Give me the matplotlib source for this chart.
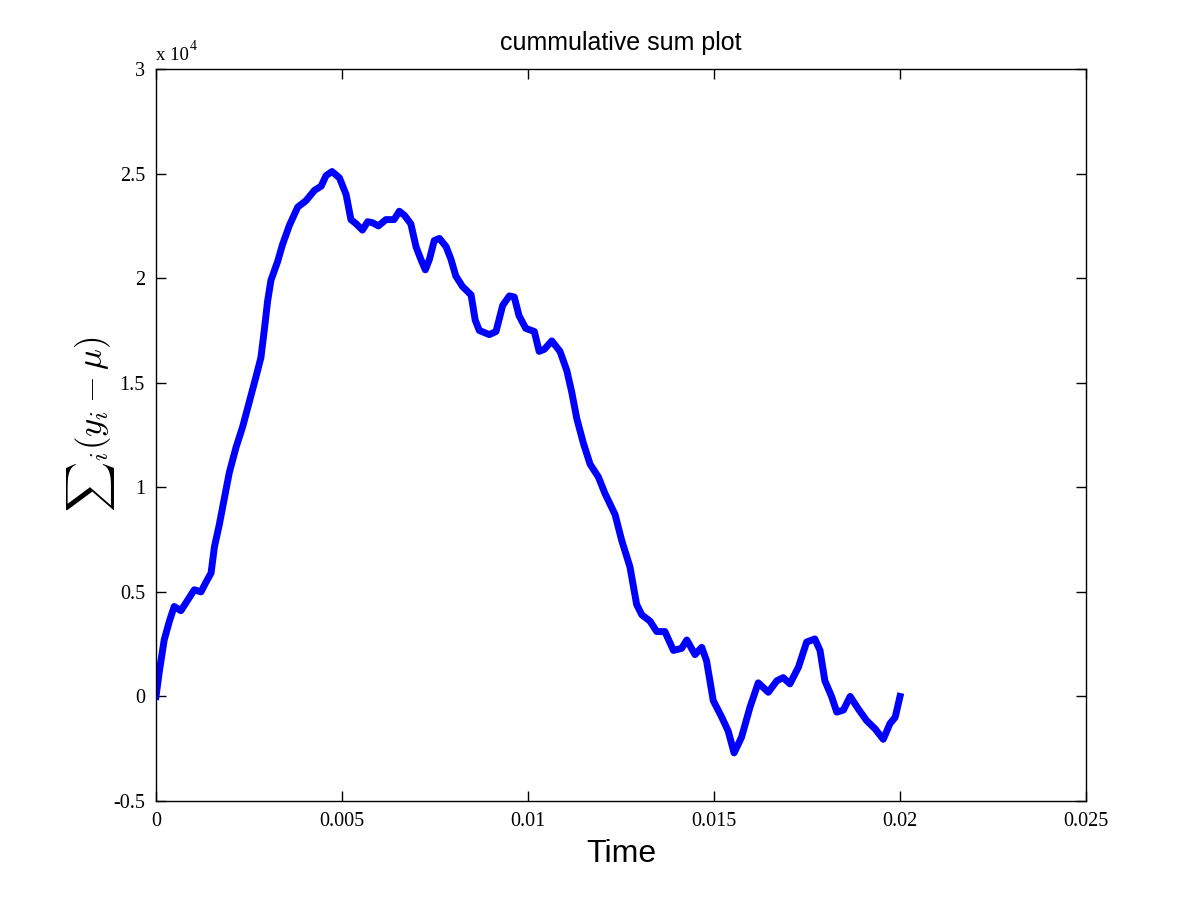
import matplotlib

matplotlib.use("Agg")
import matplotlib.pyplot as plt
from matplotlib.ticker import FixedLocator, FixedFormatter
import numpy as np


# traced cumulative sum curve (time in s, value in units of 1e4)
time = [
    0.0, 0.00009, 0.00022, 0.00036, 0.00049, 0.00067, 0.00085, 0.00103, 0.00121,
    0.00134, 0.00148, 0.00157, 0.0017, 0.00184, 0.00197, 0.00215, 0.00233, 0.00251,
    0.00269, 0.00282, 0.00291, 0.003, 0.00309, 0.00327, 0.0034, 0.00358, 0.00381,
    0.00403, 0.00426, 0.00444, 0.00457, 0.00473, 0.00493, 0.00511, 0.00524, 0.00538,
    0.00555, 0.00569, 0.00582, 0.00598, 0.00618, 0.0064, 0.00654, 0.00668, 0.00685,
    0.00699, 0.00712, 0.00724, 0.00735, 0.00748, 0.00762, 0.0078, 0.00793, 0.00806,
    0.00824, 0.00847, 0.00858, 0.00869, 0.00896, 0.00914, 0.00932, 0.0095, 0.00963,
    0.00976, 0.00994, 0.01017, 0.0103, 0.01044, 0.01064, 0.01086, 0.01104, 0.01117,
    0.01131, 0.01149, 0.01167, 0.01189, 0.01207, 0.01234, 0.01252, 0.01274, 0.01292,
    0.01306, 0.01328, 0.01346, 0.01368, 0.01391, 0.01413, 0.01427, 0.01449, 0.01467,
    0.0148, 0.01498, 0.01521, 0.01538, 0.01554, 0.01574, 0.01597, 0.01619, 0.01646,
    0.01669, 0.01686, 0.01704, 0.01727, 0.01749, 0.01771, 0.01785, 0.01798, 0.01816,
    0.0183, 0.01848, 0.01866, 0.01888, 0.0191, 0.01933, 0.01955, 0.01973, 0.01987,
    0.02,
]
cumsum = [
    0.0, 0.12, 0.27, 0.36, 0.43, 0.41, 0.46, 0.51, 0.50,
    0.545, 0.59, 0.715, 0.82, 0.95, 1.07, 1.19, 1.29, 1.41,
    1.53, 1.62, 1.75, 1.89, 1.99, 2.08, 2.16, 2.25, 2.34,
    2.37, 2.42, 2.44, 2.49, 2.51, 2.48, 2.40, 2.28, 2.26,
    2.23, 2.27, 2.265, 2.25, 2.28, 2.28, 2.32, 2.30, 2.26,
    2.15, 2.09, 2.04, 2.09, 2.18, 2.19, 2.15, 2.09, 2.01,
    1.96, 1.92, 1.80, 1.75, 1.73, 1.745, 1.87, 1.915, 1.91,
    1.82, 1.76, 1.745, 1.65, 1.66, 1.70, 1.65, 1.56, 1.46,
    1.33, 1.21, 1.11, 1.05, 0.97, 0.87, 0.745, 0.62, 0.44,
    0.39, 0.36, 0.31, 0.31, 0.22, 0.23, 0.27, 0.20, 0.235,
    0.17, -0.02, -0.10, -0.165, -0.27, -0.195, -0.05, 0.065, 0.02,
    0.075, 0.09, 0.06, 0.14, 0.26, 0.275, 0.22, 0.075, 0.0,
    -0.075, -0.065, 0.0, -0.06, -0.115, -0.155, -0.205, -0.13, -0.10,
    0.0,
]

x_ticks = [0, 0.005, 0.01, 0.015, 0.02, 0.025]
x_tick_labels = ["0", "0.005", "0.01", "0.015", "0.02", "0.025"]
y_ticks = [-0.5, 0, 0.5, 1, 1.5, 2, 2.5, 3]
y_tick_labels = ["-0.5", "0", "0.5", "1", "1.5", "2", "2.5", "3"]

plt.rcParams["mathtext.fontset"] = "cm"
serif = "Liberation Serif"
sans = "Liberation Sans"

fig = plt.figure(figsize=(12, 9), dpi=100)
ax = fig.add_axes([0.13, 0.11, 0.775, 0.8133])

ax.plot(np.array(time), np.array(cumsum), color="#0000ff", lw=5.0, solid_joinstyle="round")

ax.set_xlim(0, 0.025)
ax.set_ylim(-0.5, 3)
ax.xaxis.set_major_locator(FixedLocator(x_ticks))
ax.xaxis.set_major_formatter(FixedFormatter(x_tick_labels))
ax.yaxis.set_major_locator(FixedLocator(y_ticks))
ax.yaxis.set_major_formatter(FixedFormatter(y_tick_labels))
ax.tick_params(direction="in", length=7, width=1.0, top=True, right=True,
               labelsize=14.5, pad=8)
for lab in ax.get_xticklabels() + ax.get_yticklabels():
    lab.set_fontfamily(serif)
for sp in ax.spines.values():
    sp.set_linewidth(1.0)

ax.text(0.0, 1.013, "x 10", transform=ax.transAxes, ha="left", va="baseline",
        fontsize=13.5, fontfamily=serif)
ax.text(0.036, 1.026, "4", transform=ax.transAxes, ha="left", va="baseline",
        fontsize=10, fontfamily=serif)

ax.set_title("cummulative sum plot", fontsize=18, fontfamily=sans, pad=14)
ax.set_xlabel("Time", fontsize=23, fontfamily=sans, labelpad=6)
ax.set_ylabel(r"${\sum}_i(y_i-\mu)$", fontsize=25)
ax.yaxis.set_label_coords(-0.042, 0.515)

fig.savefig("out.png", dpi=100)
